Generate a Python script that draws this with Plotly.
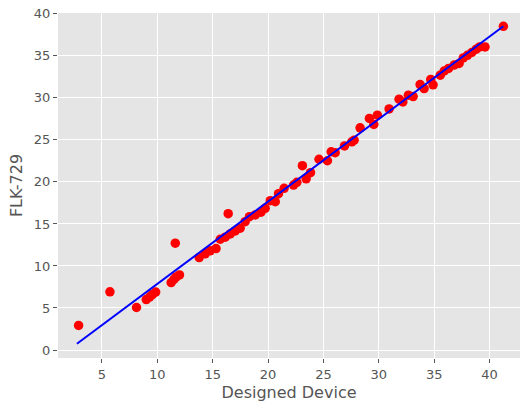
import plotly.graph_objects as go

designed_device = [
    2.89, 5.72, 8.12, 9.0, 9.3, 9.55, 9.85, 11.25, 11.5, 11.7, 12.0, 11.62,
    13.78, 14.32, 14.77, 15.3, 15.68, 16.13, 16.4, 16.58, 17.03, 17.48, 17.93,
    18.32, 18.84, 19.36, 19.74, 20.2, 20.65, 20.94, 21.45, 22.3, 22.6, 23.1,
    23.44, 23.83, 24.6, 25.36, 25.7, 26.06, 26.9, 27.56, 27.77, 28.31, 29.15,
    29.55, 29.87, 30.93, 31.83, 32.17, 32.67, 33.1, 33.73, 34.09, 34.69, 34.9,
    35.55, 35.9, 36.3, 36.8, 37.25, 37.63, 38.0, 38.4, 38.8, 39.1, 39.59, 41.25,
]
flk_729 = [
    2.92, 6.92, 5.06, 6.0, 6.3, 6.6, 6.9, 8.03, 8.4, 8.7, 8.94, 12.71,
    11.0, 11.44, 11.8, 12.07, 13.18, 13.42, 16.22, 13.81, 14.17, 14.49, 15.27,
    15.87, 16.07, 16.4, 16.86, 17.77, 17.65, 18.6, 19.24, 19.63, 19.95, 21.93,
    20.37, 21.1, 22.7, 22.52, 23.59, 23.48, 24.28, 24.77, 24.97, 26.44, 27.55,
    26.84, 27.94, 28.68, 29.85, 29.52, 30.32, 30.16, 31.59, 31.11, 32.2, 31.55,
    32.7, 33.2, 33.5, 33.9, 34.09, 34.75, 35.07, 35.4, 35.8, 36.06, 36.06, 38.52,
]
fit_slope = 0.981
fit_intercept = -1.94
fit_x = [2.74, 41.25]
fit_y = [fit_intercept + fit_slope * v for v in fit_x]

x_ticks = [5, 10, 15, 20, 25, 30, 35, 40]
y_ticks = [0, 5, 10, 15, 20, 25, 30, 35, 40]

fig = go.Figure()
fig.add_trace(go.Scatter(
    x=designed_device, y=flk_729, mode="markers",
    marker=dict(color="#FF0000", size=9.5, line=dict(width=0)),
    showlegend=False,
))
fig.add_trace(go.Scatter(
    x=fit_x, y=fit_y, mode="lines",
    line=dict(color="#0000FF", width=2),
    showlegend=False,
))

axis_common = dict(
    showgrid=True, gridcolor="white", gridwidth=1,
    zeroline=False, showline=False,
    ticks="outside", ticklen=4, tickcolor="#555555", tickwidth=1,
    ticklabeloverflow="allow",
    tickfont=dict(family="DejaVu Sans", size=13, color="#555555"),
)
fig.update_layout(
    width=520, height=404,
    margin=dict(l=57.5, r=0, t=12.7, b=45.7),
    paper_bgcolor="white", plot_bgcolor="#E5E5E5",
    xaxis=dict(range=[1.03, 42.75], tickvals=x_ticks,
               title=dict(text="Designed Device", standoff=6,
                          font=dict(family="DejaVu Sans", size=16, color="#555555")),
               **axis_common),
    yaxis=dict(range=[-0.95, 40.1], tickvals=y_ticks,
               title=dict(text="FLK-729", standoff=7,
                          font=dict(family="DejaVu Sans", size=16, color="#555555")),
               **axis_common),
)
# remove the default 8px page margin so the figure sits at the window's top-left corner
fig.write_html("out.html", config={"displayModeBar": False},
               post_script="document.body.style.margin='0';")
